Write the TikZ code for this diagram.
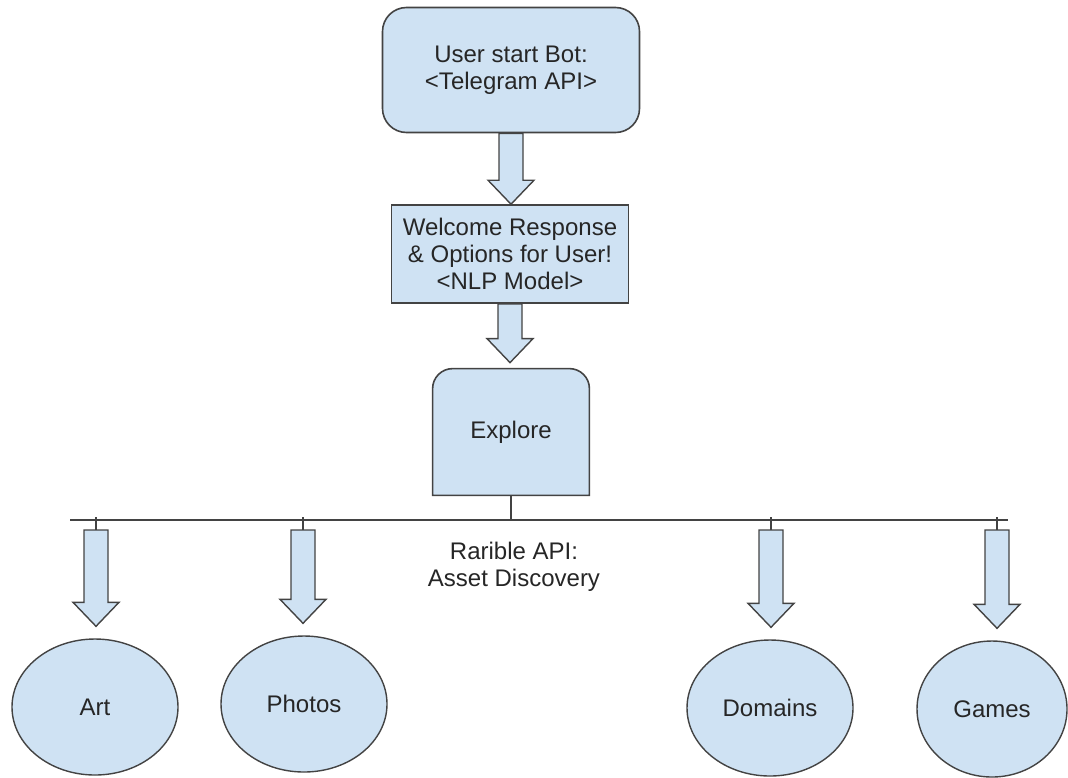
\documentclass[tikz,border=0pt]{standalone}
\usepackage{fontspec}
\setmainfont{Liberation Sans}
\usetikzlibrary{shapes.geometric,calc,backgrounds}
\definecolor{boxblue}{HTML}{CFE2F3}
\definecolor{edge}{HTML}{434343}
\tikzstyle{startbox} = [draw=edge, fill=boxblue, line width=0.8pt, rectangle, rounded corners=12pt, minimum width=128.5pt, minimum height=62.5pt, align=center]
\tikzstyle{optionbox} = [draw=edge, fill=boxblue, line width=0.8pt, rectangle, minimum width=118.5pt, minimum height=49pt, inner sep=0pt, align=center]
\tikzstyle{explorebox} = [rectangle, minimum width=78pt, minimum height=63pt]
\tikzstyle{exploreshape} = [draw=edge, fill=boxblue, line width=0.8pt]
\tikzstyle{category} = [draw=edge, fill=boxblue, line width=0.7pt, ellipse, minimum width=83pt, minimum height=68pt, inner sep=0pt]
\tikzstyle{busline} = [draw=edge, line width=0.7pt]
\tikzstyle{bigarrow} = [draw=edge, fill=boxblue, line width=0.7pt, line join=miter]
\tikzstyle{apilabel} = [align=center]

% block arrow pointing down, from #1 to the tip #2
\newcommand{\blockarrow}[2]{%
  \path[bigarrow] let \p1=(#1), \p2=(#2) in
    (\x1-6pt,\y1) -- (\x1-6pt,\y2+12pt) -- (\x1-11.5pt,\y2+12pt) -- (\x1,\y2)
    -- (\x1+11.5pt,\y2+12pt) -- (\x1+6pt,\y2+12pt) -- (\x1+6pt,\y1) -- cycle;}

\begin{document}
\begin{tikzpicture}[x=0.5pt, y=-0.5pt, font=\fontsize{12}{13.5}\selectfont, text=black!85]
		\useasboundingbox (0,0) rectangle (1068,777);

		\node[startbox] (start) at (511,70) {User start Bot:\\<Telegram API>};
		\node[optionbox] (welcome) at (510,254) {Welcome Response\\\& Options for User!\\<NLP Model>};
		\node[explorebox] (explore) at (511,432) {Explore};
		\begin{scope}[on background layer]
			\draw[exploreshape] (explore.south west) -- ([yshift=-10pt]explore.north west)
				arc[start angle=180, end angle=90, radius=10pt] -- ([xshift=-10pt]explore.north east)
				arc[start angle=90, end angle=0, radius=10pt] -- (explore.south east) -- cycle;
		\end{scope}

		\blockarrow{start.south}{welcome.north}
		\blockarrow{welcome.south}{$(explore.north)+(0,-6)$}

		% bus under Explore
		\coordinate (busL) at (70,520);
		\coordinate (busR) at (1008,520);
		\draw[busline] (busL) -- (busR);
		\draw[busline] (explore.south) -- (explore.south |- busL);
		\draw[busline, line width=1.3pt] ([xshift=1.5pt]explore.south |- busL) -- ++(55,0);
		\node[apilabel] (api) at (514,567) {Rarible API:\\Asset Discovery};

		\node[category] (art) at (95,707) {Art};
		\node[category] (photos) at (304,704) {Photos};
		\node[category] (domains) at (770,708) {Domains};
		\node[category, minimum width=75pt] (games) at (992,709) {Games};

		\coordinate (tapart) at (96,530);
		\coordinate (tapphotos) at (303,530);
		\coordinate (tapdomains) at (771,530);
		\coordinate (tapgames) at (997,530);
		\foreach \t/\c in {tapart/art, tapphotos/photos, tapdomains/domains, tapgames/games}{
			\draw[busline] ([yshift=1.5pt]\t |- busL) -- (\t);
			\blockarrow{\t}{$(\c.north)+(0,-12)$}
		}
	\end{tikzpicture}
\end{document}
